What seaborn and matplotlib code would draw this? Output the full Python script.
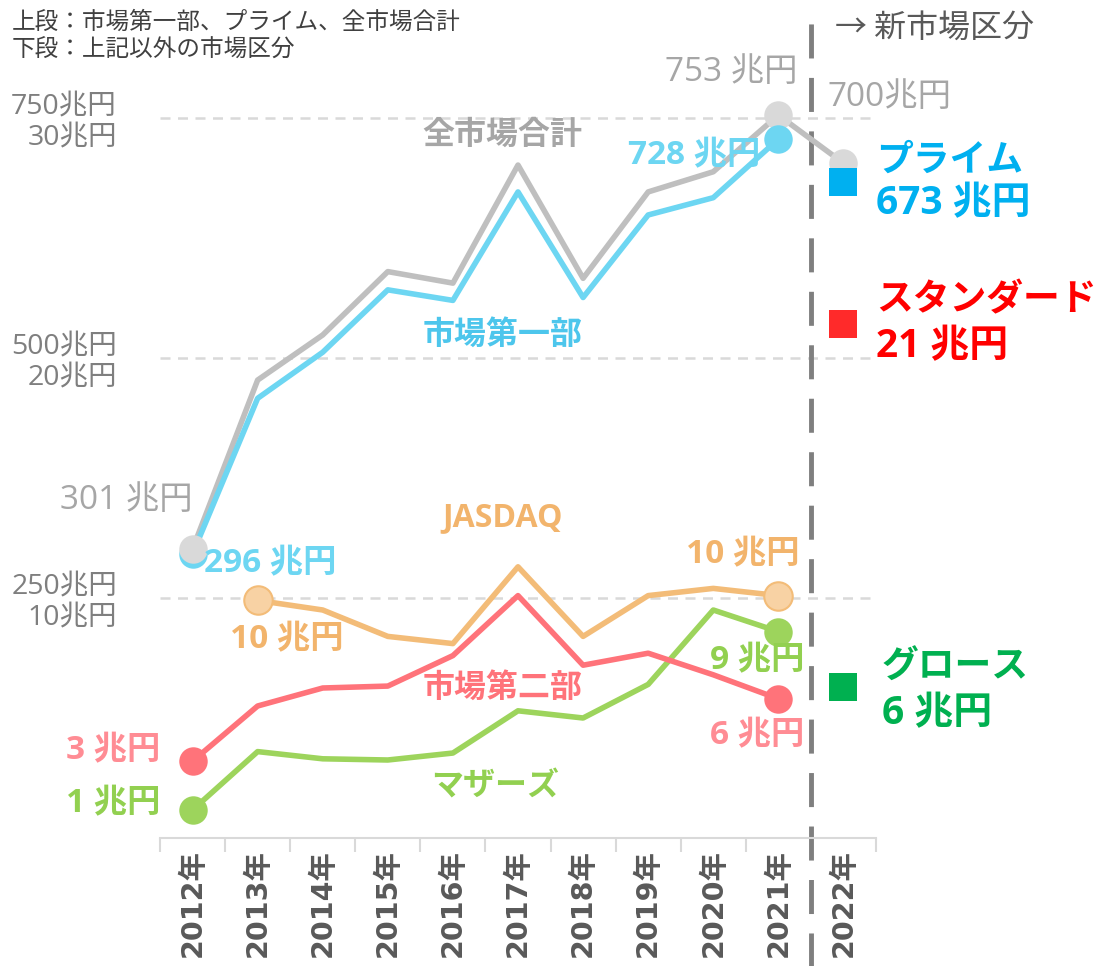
import numpy as np
import pandas as pd
import matplotlib
matplotlib.use("Agg")
import matplotlib.pyplot as plt
import seaborn as sns

# ---- data ----
years = ['2012年', '2013年', '2014年', '2015年', '2016年', '2017年',
         '2018年', '2019年', '2020年', '2021年', '2022年']
total = [301, 477, 524, 590, 578, 701, 583, 673, 694, 753, 703]          # 全市場合計 (上段)
first = [296, 458, 506, 571, 560, 673, 563, 649, 667, 728, np.nan]       # 市場第一部 (上段)
jasdaq = [np.nan, 9.9, 9.5, 8.4, 8.1, 11.3, 8.4, 10.1, 10.4, 10.1, np.nan]  # 下段
second = [3.2, 5.5, 6.25, 6.33, 7.6, 10.1, 7.2, 7.7, 6.8, 5.8, np.nan]      # 下段
mothers = [1.17, 3.6, 3.3, 3.25, 3.54, 5.3, 5.0, 6.4, 9.5, 8.6, np.nan]     # 下段
new_markets = ['プライム', 'スタンダード', 'グロース']
new_values = [683, 21.4, 6.3]          # marker positions (プライム upper, others lower)
new_labels = ['673 兆円', '21 兆円', '6 兆円']
upper_ticks = [250, 500, 750]
lower_ticks = [10, 20, 30]
SCALE = 25  # lower scale -> upper scale

sns.set_theme(style='white')
plt.rcParams['font.family'] = ['Noto Sans CJK JP', 'DejaVu Sans']
NUMFONT = ['Open Sans', 'Noto Sans CJK JP']

fig = plt.figure(figsize=(11.02, 9.66), dpi=100)
ax = fig.add_axes([160 / 1102, 128 / 966, (876 - 160) / 1102, (838 - 22) / 966])

xs = np.arange(len(years))
rows = []
for name, vals, sc in [('全市場合計', total, 1), ('市場第一部', first, 1),
                       ('JASDAQ', jasdaq, SCALE), ('市場第二部', second, SCALE),
                       ('マザーズ', mothers, SCALE)]:
    for x, v in zip(xs, vals):
        if not np.isnan(v):
            rows.append({'series': name, 'x': x, 'y': v * sc})
df = pd.DataFrame(rows)

line_colors = {'全市場合計': '#BFBFBF', '市場第一部': '#6DD6F2', 'JASDAQ': '#F3BC78',
               '市場第二部': '#FF737A', 'マザーズ': '#9DD45C'}
order = ['JASDAQ', 'マザーズ', '市場第二部', '全市場合計', '市場第一部']
for name in order:
    sub = df[df.series == name]
    sns.lineplot(data=sub, x='x', y='y', color=line_colors[name], lw=4, ax=ax,
                 sort=False, legend=False, zorder=3)

def dot(name, x, face, edge=None, z=5):
    sub = df[(df.series == name) & (df.x == x)]
    sns.scatterplot(data=sub, x='x', y='y', s=420, color=face,
                    edgecolor=edge if edge else face, linewidth=1.5 if edge else 0,
                    ax=ax, legend=False, zorder=z)

dot('市場第一部', 0, '#6DD6F2', z=5)
dot('全市場合計', 0, '#D9D9D9', z=6)
dot('市場第一部', 9, '#6DD6F2', z=6)
dot('全市場合計', 9, '#D9D9D9', z=5)
dot('全市場合計', 10, '#D9D9D9', z=5)
dot('JASDAQ', 1, '#F8D2A4', '#F3BC78')
dot('JASDAQ', 9, '#F8D2A4', '#F3BC78')
dot('市場第二部', 0, '#FF737A')
dot('市場第二部', 9, '#FF737A')
dot('マザーズ', 0, '#9DD45C')
dot('マザーズ', 9, '#9DD45C')

# squares for the new market segments
sq_colors = ['#00B0F0', '#FF2A2A', '#00B050']
sq_df = pd.DataFrame({'x': [10, 10, 10],
                      'y': [new_values[0], new_values[1] * SCALE, new_values[2] * SCALE],
                      'm': new_markets})
for i in range(3):
    sns.scatterplot(data=sq_df.iloc[[i]], x='x', y='y', marker='s', s=380,
                    color=sq_colors[i], linewidth=0, ax=ax, legend=False, zorder=5)

# axes styling
ax.set_xlim(-0.5, 10.5)
ax.set_ylim(0, 850)
for s in ['top', 'right', 'left']:
    ax.spines[s].set_visible(False)
ax.spines['bottom'].set_color('#D9D9D9')
ax.spines['bottom'].set_linewidth(1.5)
ax.set_xticks(xs)
ax.set_xticklabels(years, rotation=90, fontsize=20.5, color='#595959')
for t in ax.get_xticklabels():
    t.set_fontfamily(['DejaVu Sans', 'Noto Sans CJK JP'])
    t.set_fontweight('bold')
ax.set_xticks(np.arange(-0.5, 11, 1), minor=True)
ax.tick_params(axis='x', which='major', length=0, pad=8)
ax.tick_params(axis='x', which='minor', length=10, width=1.5, color='#D9D9D9',
               direction='out', bottom=True)
ax.set_yticks(upper_ticks)
ax.set_yticklabels([f'{u}兆円\n{l}兆円' for u, l in zip(upper_ticks, lower_ticks)],
                   fontsize=20.5, color='#7F7F7F', linespacing=1.12, ha='right')
for t in ax.get_yticklabels():
    t.set_fontfamily(NUMFONT)
ax.tick_params(axis='y', length=0, pad=31)
ax.yaxis.grid(True, color='#D9D9D9', linestyle=(0, (4, 3)), linewidth=1.8)
ax.xaxis.grid(False)
ax.set_xlabel('')
ax.set_ylabel('')
ax.set_facecolor('white')

# vertical dashed separator
ax.axvline(9.5, ymin=-0.16, ymax=1.01, color='#7F7F7F', lw=3.5,
           linestyle=(0, (7, 4)), clip_on=False, zorder=2)

# series name labels
def lab(x, y, t, c, w='bold', ha='center', size=23):
    ax.text(x, y, t, color=c, fontweight=w, ha=ha, va='center', fontsize=size, zorder=8,
            family=NUMFONT)

lab(4.76, 732, '全市場合計', '#A6A6A6')
lab(4.76, 524, '市場第一部', '#4DC6EC')
lab(4.76, 334, 'JASDAQ', '#F2B46C')
lab(4.76, 156, '市場第二部', '#FF737A')
lab(4.65, 53, 'マザーズ', '#92D050')

# value labels
VS = 24
lab(9.3, 797, '753 兆円', '#A6A6A6', w='normal', ha='right', size=VS)
lab(9.75, 771, '700兆円', '#A6A6A6', w='normal', ha='left', size=VS)
lab(8.72, 711, '728 兆円', '#6DD6F2', ha='right', size=VS)
lab(0.0, 352, '301 兆円', '#A6A6A6', w='normal', ha='right', size=VS)
lab(0.18, 286, '296 兆円', '#6DD6F2', ha='left', size=VS)
lab(1.45, 206, '10 兆円', '#F2B46C', size=VS)
lab(8.45, 295, '10 兆円', '#F2B46C', size=VS)
lab(9.4, 185, '9 兆円', '#92D050', ha='right', size=VS)
lab(9.4, 106, '6 兆円', '#FF8C94', ha='right', size=VS)
lab(-0.5, 91, '3 兆円', '#FF8C94', ha='right', size=VS)
lab(-0.5, 36, '1 兆円', '#92D050', ha='right', size=VS)

# new market labels
nm_pos = [(10.5, 706, 661), (10.5, 560, 512), (10.59, 177, 130)]
for (x, y1, y2), name, t, c in zip(nm_pos, new_markets, new_labels,
                                   ['#00B0F0', '#FF0000', '#00B050']):
    ax.text(x, y1, name, color=c, fontweight='bold', fontsize=26.5, ha='left', va='center',
            clip_on=False, family=NUMFONT)
    ax.text(x, y2, t, color=c, fontweight='bold', fontsize=28, ha='left', va='center',
            clip_on=False, family=NUMFONT)

# header texts
fig.text(12 / 1102, 1 - 22 / 966, '上段：市場第一部、プライム、全市場合計', fontsize=17,
         color='#404040', va='center', ha='left')
fig.text(12 / 1102, 1 - 50 / 966, '下段：上記以外の市場区分', fontsize=17,
         color='#404040', va='center', ha='left')
fig.text(835 / 1102, 1 - 28 / 966, '→ 新市場区分', fontsize=23, color='#595959',
         va='center', ha='left')

fig.savefig('out.png', dpi=100, facecolor='white')
